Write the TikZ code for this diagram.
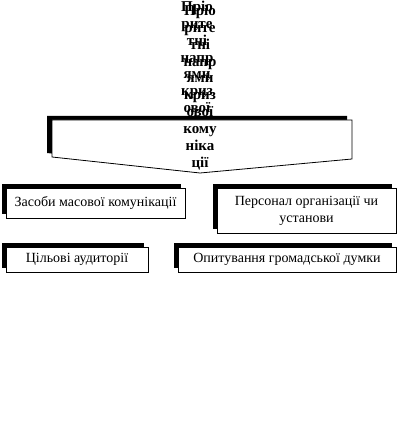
\documentclass[tikz,border=0pt]{standalone}
\usepackage{fontspec}
\setmainfont{Liberation Serif}
\usetikzlibrary{shadows}
\tikzset{
  box/.style={draw=black, line width=0.8pt, fill=white, align=center, inner sep=2pt,
    font=\fontsize{14}{17}\selectfont,
    drop shadow={shadow xshift=-4pt, shadow yshift=4pt, fill=black, opacity=1}},
  column/.style={align=center, inner sep=0pt, font=\fontsize{15}{16.8}\selectfont\bfseries},
  callout/.style={draw=black, line width=0.8pt, fill=white}
}
\newcommand\calloutpath{(52,120) -- (352,120) -- (352,159) -- (200,173) -- (52,157) -- cycle}
\begin{document}
\begin{tikzpicture}[x=1pt, y=-1pt]
  \useasboundingbox (0,0) rectangle (406,422);
  % column of the heading, first copy (partly under the callout)
  \node[column] (prioA) at (197,83.5) {Пріо\\рите\\тні\\напр\\ями\\криз\\ової\\кому\\ніка\\ції};
  % callout with its shadow
  \fill[black, shift={(-5,-4)}] \calloutpath;
  \draw[callout] \calloutpath;
  % second copy on top
  \node[column] (prioB) at (200,87.5) {Пріо\\рите\\тні\\напр\\ями\\криз\\ової\\кому\\ніка\\ції};

  \node[box, minimum width=179pt, minimum height=30pt] (media) at (95.5,203) {Засоби масової комунікації};
  \node[box, minimum width=179pt, minimum height=45pt] (staff) at (306.5,210.5) {Персонал організації чи\\установи};
  \node[box, minimum width=142pt, minimum height=25pt] (audience) at (77,259.5) {Цільові аудиторії};
  \node[box, minimum width=218pt, minimum height=25pt] (poll) at (287,259.5) {Опитування громадської думки};
\end{tikzpicture}
\end{document}
